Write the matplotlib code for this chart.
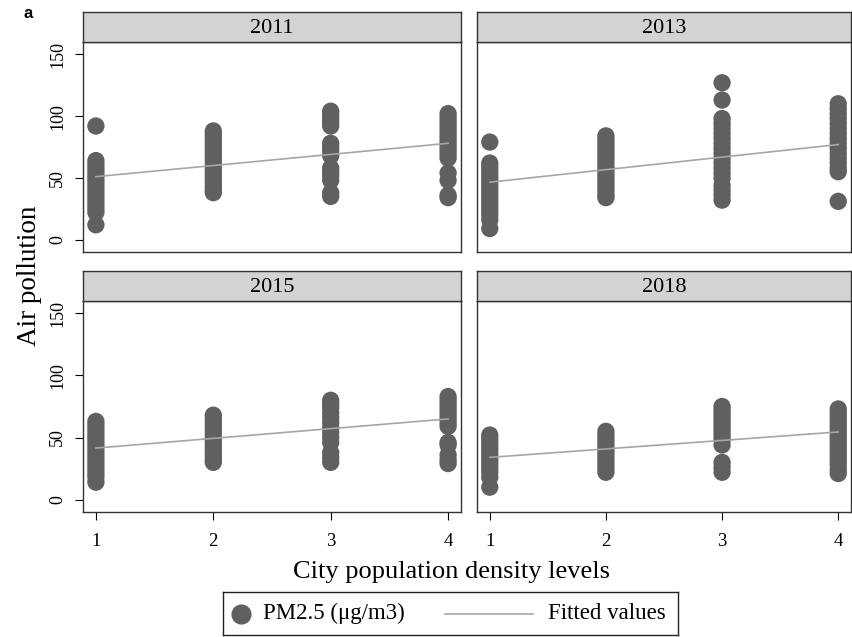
import matplotlib
matplotlib.use("Agg")
import matplotlib.pyplot as plt

plt.rcParams['font.family'] = ['Liberation Serif', 'DejaVu Serif']

years = ["2011", "2013", "2015", "2018"]
levels = [1, 2, 3, 4]

# PM2.5 values per year, per density level
pm_2011 = [
    [92, 64, 61, 58, 55, 52, 49, 46, 43, 40, 37, 34, 31, 28, 25, 22, 12],
    [88, 85, 82, 79, 76, 73, 70, 67, 64, 61, 58, 55, 52, 49, 46, 43, 40, 38],
    [104, 101, 98, 95, 92, 78, 75, 72, 68, 58, 55, 52, 48, 38, 35],
    [102, 99, 96, 93, 90, 87, 84, 81, 78, 75, 72, 69, 66, 54, 48, 36, 34],
]
pm_2013 = [
    [79, 62, 59, 56, 53, 50, 47, 44, 41, 38, 35, 32, 29, 26, 23, 20, 16, 9],
    [84, 81, 78, 75, 72, 69, 66, 63, 60, 57, 54, 51, 48, 45, 42, 39, 36, 34],
    [127, 113, 98, 94, 90, 86, 82, 78, 74, 70, 66, 62, 58, 54, 50, 44, 40, 36, 32],
    [110, 106, 102, 98, 94, 90, 86, 82, 78, 74, 70, 66, 62, 58, 55, 31],
]
pm_2015 = [
    [63, 60, 57, 54, 51, 48, 45, 42, 39, 36, 33, 30, 27, 24, 21, 18, 14],
    [68, 65, 62, 59, 56, 53, 50, 47, 44, 41, 38, 35, 32, 30],
    [80, 77, 74, 70, 66, 62, 58, 54, 50, 46, 38, 34, 30],
    [83, 80, 77, 74, 71, 68, 65, 62, 59, 46, 44, 36, 32, 29],
]
pm_2018 = [
    [52, 49, 46, 43, 40, 37, 34, 31, 28, 25, 22, 18, 10],
    [55, 52, 49, 46, 43, 40, 37, 34, 31, 28, 25, 22],
    [75, 72, 69, 66, 63, 60, 57, 54, 51, 48, 44, 30, 26, 22],
    [73, 70, 67, 64, 61, 58, 55, 52, 49, 46, 43, 40, 37, 34, 31, 28, 24, 21],
]
pm_all = [pm_2011, pm_2013, pm_2015, pm_2018]

# fitted line values at level 1 and level 4
fit_start = [51, 46.5, 41.5, 34]
fit_end = [78, 77, 65, 54.5]

yticks = [0, 50, 100, 150]
dot_color = "#606060"
fit_color = "#a6a6a6"
edge = "#333333"

fig = plt.figure(figsize=(8.52, 6.37), dpi=100)

W, H = 852.0, 637.0
# (left, right, plot top, plot bottom, strip top) in pixels
boxes = [
    (83, 461, 42, 252, 12),
    (477, 851, 42, 252, 12),
    (83, 461, 301, 512, 271),
    (477, 851, 301, 512, 271),
]

for i, (yr, data) in enumerate(zip(years, pm_all)):
    l, r, t, b, st = boxes[i]
    ax = fig.add_axes([l / W, 1 - b / H, (r - l) / W, (b - t) / H])
    for lev, vals in zip(levels, data):
        ax.scatter([lev] * len(vals), vals, s=155, color=dot_color,
                   edgecolors="none", zorder=2)
    ax.plot([1, 4], [fit_start[i], fit_end[i]], color=fit_color, lw=1.2, zorder=3)
    ax.set_xlim(0.89, 4.11)
    ax.set_ylim(-10, 160)
    for sp in ax.spines.values():
        sp.set_color(edge)
        sp.set_linewidth(1.0)
    ax.set_yticks(yticks)
    ax.set_xticks(levels)
    ax.tick_params(axis="y", length=6, width=0.8, labelsize=13,
                   labelrotation=90, pad=6)
    ax.tick_params(axis="x", length=6, width=0.8, labelsize=13.5, pad=9)
    for lab in ax.get_yticklabels():
        lab.set_va("center")
    if i % 2 == 1:
        ax.tick_params(axis="y", left=False, labelleft=False)
    if i < 2:
        ax.tick_params(axis="x", bottom=False, labelbottom=False)

    # strip header
    sax = fig.add_axes([l / W, 1 - t / H, (r - l) / W, (t - st) / H])
    sax.set_facecolor("#d3d3d3")
    sax.set_xticks([])
    sax.set_yticks([])
    for sp in sax.spines.values():
        sp.set_color(edge)
        sp.set_linewidth(1.0)
    sax.text(0.5, 0.45, yr, ha="center", va="center", fontsize=16,
             transform=sax.transAxes)

fig.text(30 / W, 1 - 276 / H, "Air pollution", rotation=90, ha="center",
         va="center", fontsize=19.5)
fig.text(451 / W, 1 - 572 / H, "City population density levels", ha="center",
         va="center", fontsize=19)
fig.text(24 / W, 1 - 14 / H, "a", ha="left", va="center", fontsize=12,
         fontweight="bold", family="Liberation Sans")

# legend box drawn by hand, in pixel units
lax = fig.add_axes([223 / W, 1 - 635 / H, 455 / W, 43 / H])
lax.set_xlim(223, 678)
lax.set_ylim(635, 592)
lax.set_xticks([])
lax.set_yticks([])
for sp in lax.spines.values():
    sp.set_color("#222222")
    sp.set_linewidth(1.0)
lax.plot([241], [613.5], marker="o", color=dot_color, markersize=13.5,
         linestyle="none")
lax.text(263, 613.5, "PM2.5 (\u03bcg/m3)", ha="left", va="center", fontsize=16.5)
lax.plot([445, 533], [613.5, 613.5], color=fit_color, lw=1.2)
lax.text(548, 613.5, "Fitted values", ha="left", va="center", fontsize=16.5)

fig.savefig("out.png", dpi=100)
